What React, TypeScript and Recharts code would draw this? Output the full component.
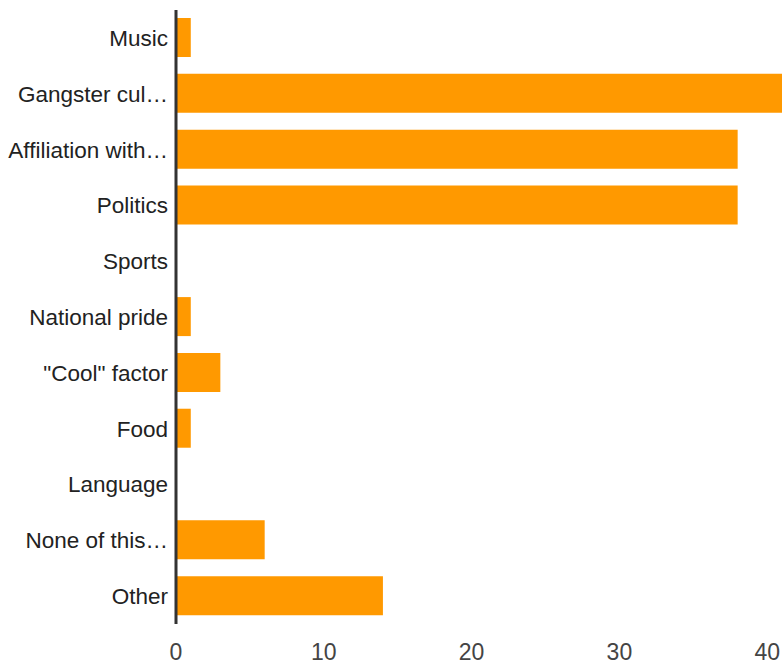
import { BarChart, Bar, XAxis, YAxis } from 'recharts'

// Categories as shown (long labels are already truncated in the source chart)
const categories = [
    'Music',
    'Gangster cul…',
    'Affiliation with…',
    'Politics',
    'Sports',
    'National pride',
    '"Cool" factor',
    'Food',
    'Language',
    'None of this…',
    'Other',
]

const counts = [1, 41, 38, 38, 0, 1, 3, 1, 0, 6, 14]

const xTicks = [0, 10, 20, 30, 40]

const BAR_COLOR = '#ff9900'
const FONT = '"Liberation Sans", Arial, sans-serif'

export default function App() {
    const chartData = categories.map((name, i) => ({ name, count: counts[i] }))

    return (
        <div style={{ position: 'absolute', left: 0, top: 0, fontFamily: FONT }}>
            <BarChart
                width={782}
                height={667}
                data={chartData}
                layout="vertical"
                margin={{ top: 10, right: 0, bottom: 0, left: 0 }}
            >
                <XAxis
                    type="number"
                    domain={[0, 41]}
                    ticks={xTicks}
                    axisLine={false}
                    tickLine={false}
                    height={43}
                    tickMargin={14}
                    interval={0}
                    allowDataOverflow
                    tick={{ fill: '#444444', fontSize: 23, fontFamily: FONT }}
                />
                <YAxis
                    type="category"
                    dataKey="name"
                    width={176}
                    interval={0}
                    tickLine={false}
                    axisLine={{ stroke: '#333333', strokeWidth: 3 }}
                    tick={{ fill: '#222222', fontSize: 22.5, fontFamily: FONT }}
                />
                <Bar dataKey="count" fill={BAR_COLOR} barSize={39} isAnimationActive={false} />
            </BarChart>
        </div>
    )
}
